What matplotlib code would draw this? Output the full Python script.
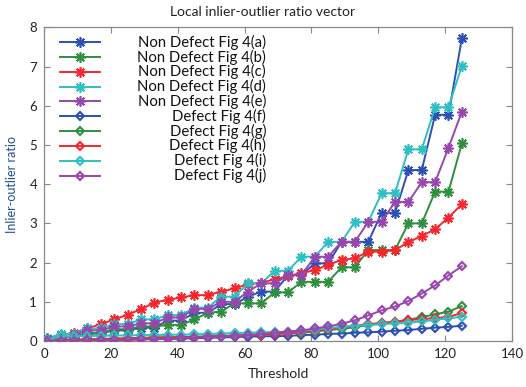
import matplotlib
matplotlib.use("Agg")
import matplotlib.pyplot as plt

plt.rcParams['font.family'] = ['Lato', 'DejaVu Sans']

threshold = [1, 5, 9, 13, 17, 21, 25, 29, 33, 37, 41, 45, 49, 53, 57, 61,
             65, 69, 73, 77, 81, 85, 89, 93, 97, 101, 105, 109, 113, 117, 121, 125]

nd_a = [0.03, 0.10, 0.10, 0.20, 0.20, 0.27, 0.27, 0.34, 0.34, 0.52, 0.52, 0.72, 0.72, 0.94, 0.94, 1.13,
        1.26, 1.26, 1.68, 1.68, 1.98, 1.98, 2.53, 2.53, 2.53, 3.27, 3.27, 4.36, 4.36, 5.77, 5.77, 7.72]
nd_b = [0.03, 0.08, 0.10, 0.17, 0.20, 0.30, 0.30, 0.37, 0.37, 0.41, 0.41, 0.55, 0.72, 0.75, 0.96, 0.96,
        0.96, 1.24, 1.24, 1.51, 1.51, 1.51, 1.88, 1.88, 2.32, 2.32, 2.32, 3.00, 3.00, 3.81, 3.81, 5.04]
nd_c = [0.07, 0.15, 0.21, 0.32, 0.43, 0.55, 0.67, 0.81, 0.98, 1.05, 1.11, 1.17, 1.17, 1.26, 1.34, 1.45,
        1.49, 1.57, 1.66, 1.73, 1.81, 1.94, 2.07, 2.11, 2.28, 2.28, 2.32, 2.52, 2.68, 2.85, 3.15, 3.49]
nd_d = [0.07, 0.18, 0.18, 0.32, 0.32, 0.43, 0.43, 0.55, 0.55, 0.66, 0.66, 0.85, 0.85, 1.13, 1.13, 1.47,
        1.47, 1.79, 1.79, 2.15, 2.15, 2.53, 2.53, 3.04, 3.04, 3.77, 3.77, 4.89, 4.89, 5.96, 5.96, 7.02]
nd_e = [0.05, 0.05, 0.15, 0.27, 0.27, 0.37, 0.37, 0.45, 0.45, 0.60, 0.60, 0.82, 0.82, 1.00, 1.00, 1.26,
        1.47, 1.47, 1.68, 1.68, 2.15, 2.15, 2.53, 2.53, 3.04, 3.04, 3.55, 3.55, 4.05, 4.05, 4.93, 5.85]

d_f = [0.00, 0.01, 0.02, 0.02, 0.03, 0.03, 0.04, 0.04, 0.05, 0.05, 0.06, 0.07, 0.08, 0.09, 0.10, 0.11,
       0.12, 0.12, 0.13, 0.15, 0.16, 0.18, 0.19, 0.21, 0.22, 0.24, 0.26, 0.28, 0.31, 0.34, 0.36, 0.39]
d_g = [0.01, 0.02, 0.03, 0.04, 0.05, 0.06, 0.07, 0.08, 0.09, 0.10, 0.10, 0.11, 0.12, 0.13, 0.14, 0.15,
       0.16, 0.18, 0.20, 0.21, 0.24, 0.28, 0.31, 0.35, 0.41, 0.45, 0.49, 0.54, 0.61, 0.68, 0.75, 0.89]
d_h = [0.01, 0.02, 0.03, 0.04, 0.05, 0.06, 0.06, 0.07, 0.08, 0.09, 0.09, 0.10, 0.11, 0.12, 0.13, 0.14,
       0.16, 0.18, 0.20, 0.22, 0.26, 0.30, 0.35, 0.39, 0.43, 0.46, 0.49, 0.53, 0.56, 0.58, 0.62, 0.71]
d_i = [0.02, 0.12, 0.12, 0.13, 0.13, 0.14, 0.14, 0.15, 0.15, 0.16, 0.16, 0.17, 0.18, 0.19, 0.20, 0.21,
       0.22, 0.23, 0.24, 0.26, 0.29, 0.33, 0.36, 0.39, 0.41, 0.43, 0.45, 0.47, 0.50, 0.54, 0.58, 0.62]
d_j = [0.00, 0.01, 0.01, 0.02, 0.02, 0.03, 0.03, 0.04, 0.05, 0.06, 0.07, 0.08, 0.10, 0.11, 0.13, 0.15,
       0.18, 0.21, 0.24, 0.27, 0.32, 0.37, 0.44, 0.53, 0.65, 0.78, 0.88, 1.02, 1.21, 1.42, 1.67, 1.91]

labels = ["Non Defect Fig 4(a)", "Non Defect Fig 4(b)", "Non Defect Fig 4(c)",
          "Non Defect Fig 4(d)", "Non Defect Fig 4(e)",
          "Defect Fig 4(f)", "Defect Fig 4(g)", "Defect Fig 4(h)",
          "Defect Fig 4(i)", "Defect Fig 4(j)"]
series = [nd_a, nd_b, nd_c, nd_d, nd_e, d_f, d_g, d_h, d_i, d_j]

x_ticks = [0, 20, 40, 60, 80, 100, 120, 140]
y_ticks = [0, 1, 2, 3, 4, 5, 6, 7, 8]

colors = ['#2c4fb5', '#2f8f3f', '#f6262c', '#2dbfc2', '#9846ad']
star = (8, 2, 0)
STAR_MS, STAR_MEW = 7.5, 1.2
DIA_MS, DIA_MEW = 4.2, 1.5

fig = plt.figure(figsize=(5.26, 3.87), dpi=100)
ax = fig.add_axes([0.0837, 0.1189, 0.8897, 0.8103])

for k, (lab, vals) in enumerate(zip(labels, series)):
    c = colors[k % 5]
    if k < 5:
        ax.plot(threshold, vals, color=c, lw=1.4, marker=star, ms=STAR_MS, mew=STAR_MEW,
                label=lab, zorder=3)
    else:
        ax.plot(threshold, vals, color=c, lw=1.4, marker='D', ms=DIA_MS, mew=DIA_MEW,
                mfc='none', label=lab, zorder=3)

ax.set_xlim(0, 140)
ax.set_ylim(0, 8)
ax.set_xticks(x_ticks)
ax.set_yticks(y_ticks)
ax.tick_params(direction='in', top=True, right=True, length=4, width=0.8,
               color='#888888', labelsize=9.5, labelcolor='#222222', pad=5)
for s in ax.spines.values():
    s.set_color('#888888')
    s.set_linewidth(0.9)

ax.set_xlabel("Threshold", fontsize=10, color='#222222', labelpad=6)
ax.set_ylabel("Inlier-outlier ratio", fontsize=9, color='#1d4f91', labelpad=8)
fig.text(0.5, 0.968, "Local inlier-outlier ratio vector", ha='center', va='center',
         fontsize=10, color='#222222')

# legend, text right-aligned as in reference
row0 = 0.9525
drow = 0.0472
x0, x1, xm, xt = 0.0342, 0.1197, 0.0769, 0.4744
for k, lab in enumerate(labels):
    y = row0 - k * drow
    c = colors[k % 5]
    ax.plot([x0, x1], [y, y], transform=ax.transAxes, color=c, lw=1.4, clip_on=False)
    if k < 5:
        ax.plot([xm], [y], transform=ax.transAxes, color=c, marker=star, ms=STAR_MS,
                mew=STAR_MEW, clip_on=False)
    else:
        ax.plot([xm], [y], transform=ax.transAxes, color=c, marker='D', ms=DIA_MS,
                mew=DIA_MEW, mfc='none', clip_on=False)
    ax.text(xt, y, lab, transform=ax.transAxes, ha='right', va='center',
            fontsize=10.7, color='#111111')

fig.savefig("out.png", dpi=100)
